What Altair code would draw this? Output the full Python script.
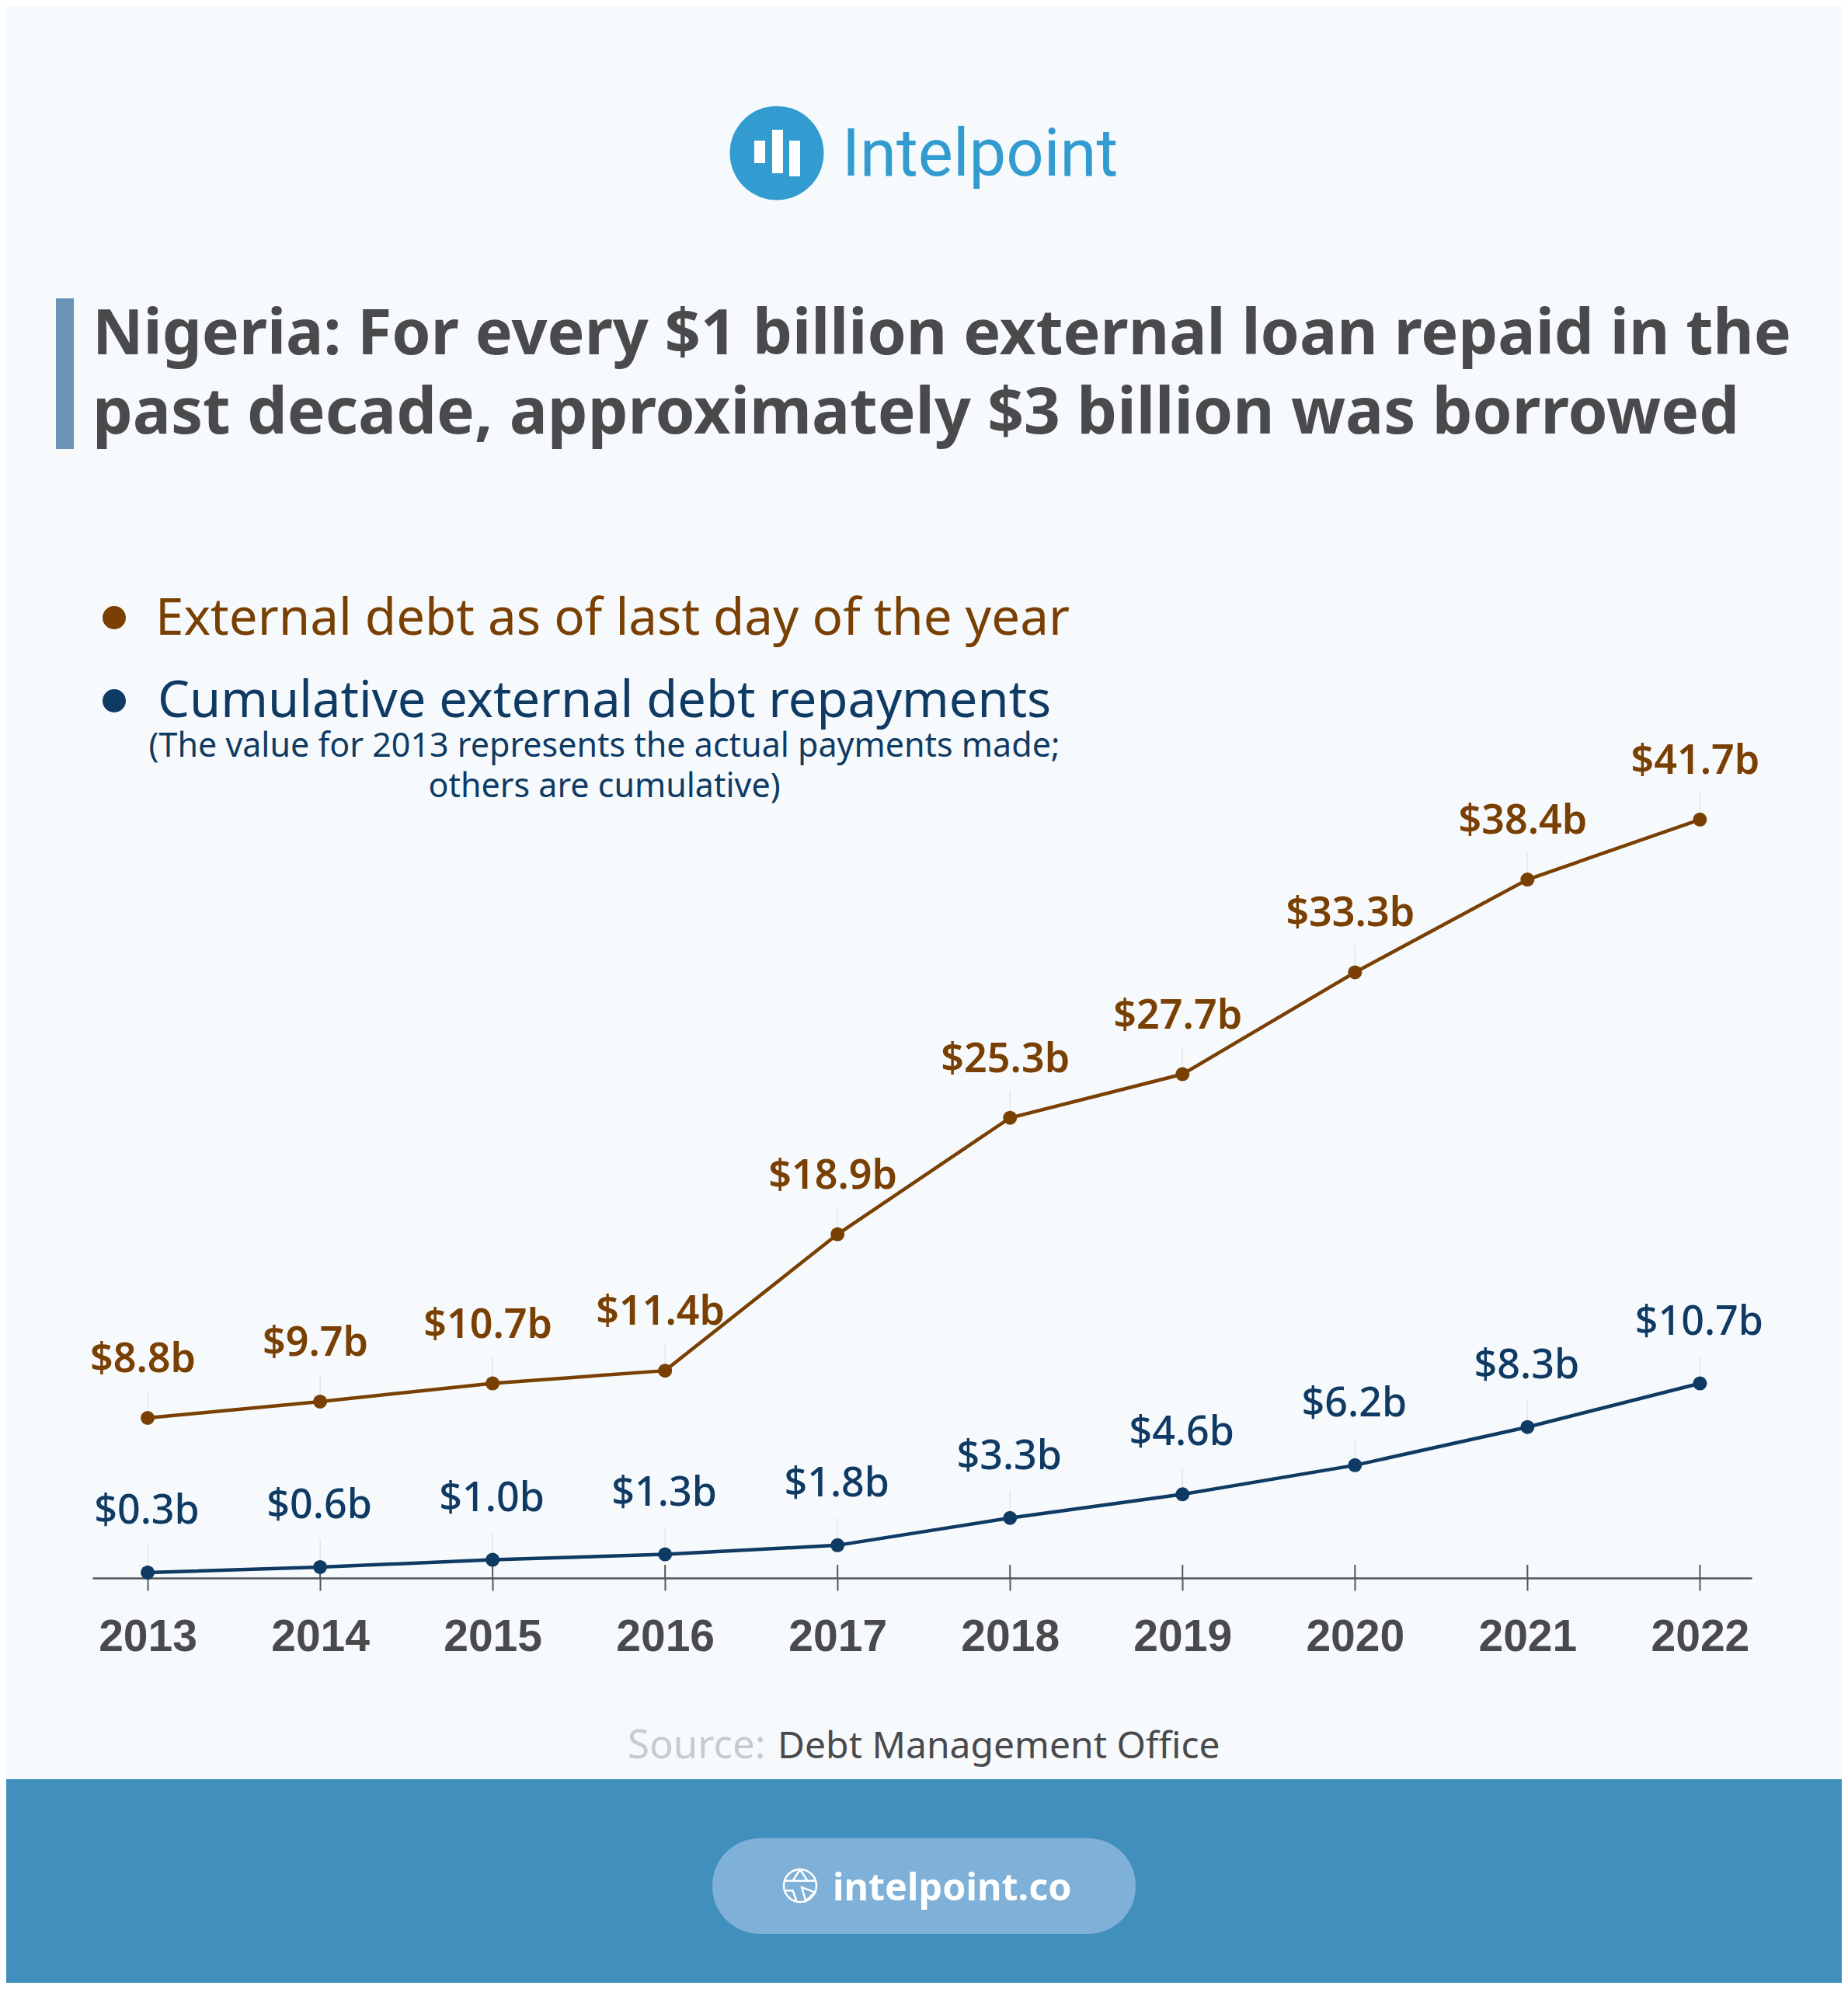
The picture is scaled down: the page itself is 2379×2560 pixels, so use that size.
import pandas as pd
import altair as alt

YEARS = [2013, 2014, 2015, 2016, 2017, 2018, 2019, 2020, 2021, 2022]
EXTERNAL_DEBT = [8.8, 9.7, 10.7, 11.4, 18.9, 25.3, 27.7, 33.3, 38.4, 41.7]
REPAYMENTS = [0.3, 0.6, 1.0, 1.3, 1.8, 3.3, 4.6, 6.2, 8.3, 10.7]

BROWN = '#7a4003'
NAVY = '#0f3a63'
GREY = '#4a4a4c'
BACKGROUND = '#f6fafd'
FONT = 'Noto Sans'

MARGIN = 8
AXIS_Y = 2031
HEIGHT = AXIS_Y - MARGIN
PX_PER_BILLION = 23.41

GLOBE = ('M-1,0 A1,1 0 1,1 1,0 A1,1 0 1,1 -1,0 Z M0,-1 L-.45,-.3 L-.9,-.3 M0,-1 L.45,-.3 L.95,-.3 '
         'M-.45,-.3 L.45,-.3 M-.9,.3 L-.45,.3 L-.2,1 M.1,.1 L.9,.4 L.35,.95 Z')

one_row = pd.DataFrame({'row': [0]})
x_scale = alt.Scale(domain=[2012.68, 2022.30], range=[119 - MARGIN, 2255 - MARGIN], nice=False, zero=False)
y_scale = alt.Scale(domain=[0, HEIGHT / PX_PER_BILLION], nice=False)
# same axis on every layer that has an x, a null axis on one of them drops it for all
x_axis = alt.Axis(values=YEARS, format='d', title=None, grid=False, labelFont='Liberation Sans',
                  labelFontSize=57, labelFontWeight='bold', labelColor=GREY, labelPadding=32,
                  domainColor='#555555', domainWidth=2.5, tickColor='#555555', tickWidth=2,
                  tickSize=16)


def text(content, x, y, size, color, weight='normal', align='left', font=FONT):
    return alt.Chart(one_row).mark_text(
        x=x - MARGIN, y=y - MARGIN, fontSize=size, color=color, fontWeight=weight,
        align=align, baseline='alphabetic', font=font
    ).encode(text=alt.value(content))


def box(x, x2, y, y2, color, radius=0):
    return alt.Chart(one_row).mark_rect(color=color, cornerRadius=radius).encode(
        x=alt.value(x - MARGIN), x2=alt.value(x2 - MARGIN),
        y=alt.value(y - MARGIN), y2=alt.value(y2 - MARGIN)
    )


def dot(x, y, diameter, color):
    return alt.Chart(one_row).mark_point(filled=True, opacity=1, color=color, size=diameter ** 2).encode(
        x=alt.value(x - MARGIN), y=alt.value(y - MARGIN)
    )


def series(values, color, label_dx, label_dy, label_weight):
    df = pd.DataFrame({'year': YEARS, 'value': values})
    df['label'] = [f'${v:.1f}b' for v in values]
    base = alt.Chart(df).encode(
        x=alt.X('year:Q', scale=x_scale, axis=x_axis),
        y=alt.Y('value:Q', scale=y_scale, axis=None)
    )
    leader = base.transform_calculate(top='datum.value + 1.5').mark_rule(color='#e3e6ea', strokeWidth=1.5).encode(y2='top:Q')
    line = base.mark_line(color=color, strokeWidth=4.5)
    points = base.mark_point(filled=True, opacity=1, color=color, size=324)
    labels = base.mark_text(color=color, fontSize=52, fontWeight=label_weight, font=FONT,
                            dy=label_dy, dx=label_dx).encode(text='label:N')
    return leader + line + points + labels


ticks_up = alt.Chart(pd.DataFrame({'year': YEARS})).mark_rule(color='#555555', strokeWidth=2).encode(
    x=alt.X('year:Q', scale=x_scale, axis=x_axis),
    y=alt.value(AXIS_Y - 17 - MARGIN), y2=alt.value(AXIS_Y - MARGIN)
)

logo = [
    dot(1000, 197, 121, '#329bcf'),
    box(971, 985, 181, 210, 'white'),
    box(994, 1008, 167, 223, 'white'),
    box(1016, 1030, 181, 227, 'white'),
    text('Intelpoint', 1084, 226, 85, '#329bcf', font='Roboto'),
]

heading = [
    box(72, 95, 384, 578, '#6b93b5'),
    text('Nigeria: For every $1 billion external loan repaid in the', 119, 456, 80.7, GREY, 'bold'),
    text('past decade, approximately $3 billion was borrowed', 119, 558, 82, GREY, 'bold'),
]

legend = [
    dot(147, 795, 30, BROWN),
    text('External debt as of last day of the year', 200, 817, 65.5, BROWN),
    dot(147, 902, 30, NAVY),
    text('Cumulative external debt repayments', 203, 923, 65, NAVY),
    text('(The value for 2013 represents the actual payments made;', 778, 974, 43, NAVY, align='center'),
    text('others are cumulative)', 778, 1026, 43, NAVY, align='center'),
]

footer = [
    text('Source:', 808, 2263, 51, '#c9cacc'),
    text('Debt Management Office', 1001, 2263, 48, GREY),
    box(0, 2400, 2290, 2580, '#418fbc'),
    box(917, 1462, 2366, 2489, '#7fb1d8', radius=61),
    alt.Chart(one_row).mark_point(shape=GLOBE, filled=False, opacity=1, color='white', strokeWidth=2.5, size=1764).encode(
        x=alt.value(1030 - MARGIN), y=alt.value(2427 - MARGIN)
    ),
    text('intelpoint.co', 1072, 2446, 48.5, 'white', 'bold'),
]

chart = alt.layer(
    ticks_up,
    series(EXTERNAL_DEBT, BROWN, -6, -75, 600),
    series(REPAYMENTS, NAVY, -1, -79, 500),
    *logo, *heading, *legend, *footer
).properties(
    width=2379 - 2 * MARGIN,
    height=HEIGHT,
    autosize=alt.AutoSizeParams(type='none'),
    padding={'left': 0, 'top': 0, 'right': 0, 'bottom': 2560 - 2 * MARGIN - HEIGHT},
    background=BACKGROUND
).configure_view(strokeWidth=0)

chart.save("out.html", embed_options={"renderer": "svg", "actions": False})
